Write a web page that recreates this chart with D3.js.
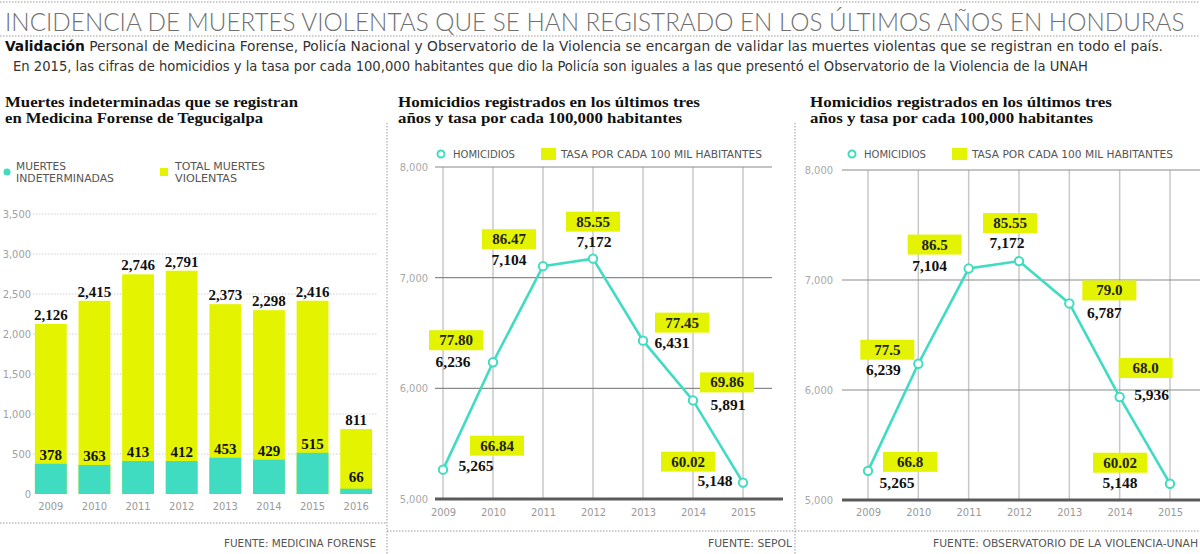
<!DOCTYPE html>
<html><head><meta charset="utf-8">
<script src="https://cdn.jsdelivr.net/npm/d3@7/dist/d3.min.js"></script>
<style>
html,body{margin:0;padding:0;background:#fff;}
svg{display:block;}
.sans{font-family:"Liberation Sans Narrow","DejaVu Sans Condensed","Roboto",sans-serif;}
.serif{font-family:"Liberation Serif","DejaVu Serif",serif;font-weight:bold;}
.ttl{font-family:"Lato","Open Sans","Roboto",sans-serif;font-weight:300;}
</style></head>
<body>
<svg id="chart" width="1200" height="554"></svg>
<script>
// ---------- DATA ----------
const barYears = ["2009","2010","2011","2012","2013","2014","2015","2016"];
const totalViolent = [2126,2415,2746,2791,2373,2298,2416,811];
const undetermined = [378,363,413,412,453,429,515,66];
const barTicks = [0,500,1000,1500,2000,2500,3000,3500];

const lineYears = ["2009","2010","2011","2012","2013","2014","2015"];
const sepolHomicides = [5265,6236,7104,7172,6431,5891,5148];
const sepolRates = ["66.84","77.80","86.47","85.55","77.45","69.86","60.02"];
const ovHomicides = [5265,6239,7104,7172,6787,5936,5148];
const ovRates = ["66.8","77.5","86.5","85.55","79.0","68.0","60.02"];
const lineTicks = [5000,6000,7000,8000];

// ---------- LAYOUT (label placement offsets relative to points) ----------
const sepolBoxOff = [[54,-24],[-37,-22],[-34,-27],[0,-37],[39,-18],[34,-18],[-55,-21]];
const sepolNumOff = [[33,-4],[-40,0],[-34,-6],[1,-17],[29,2],[35,5],[-28,-2]];
const ovBoxOff = [[42,-9],[-31,-14],[-34,-24],[-9,-38],[40,-13],[26,-29],[-50,-21]];
const ovNumOff = [[29,12],[-35,6],[-39,-3],[-12,-18],[35,10],[32,-2],[-50,-1]];

const TEAL = "#3fdcc1", YELLOW = "#e4f400";
const fmt = d3.format(",");
const svg = d3.select("#chart");

// ---------- HEADER ----------
const dot = (x1,y1,x2,y2) => svg.append("line").attr("x1",x1).attr("y1",y1).attr("x2",x2).attr("y2",y2)
  .attr("stroke","#9a9a9a").attr("stroke-width",1).attr("stroke-dasharray","1.5,1.5");
dot(0,2,1200,2); dot(0,36,1200,36);
// title: fit the natural width, then stretch vertically to the reference cap height
const title = svg.append("text").attr("class","ttl").attr("x",0).attr("y",0).attr("font-size",26)
  .attr("fill","#707070")
  .text("INCIDENCIA DE MUERTES VIOLENTAS QUE SE HAN REGISTRADO EN LOS ÚLTIMOS AÑOS EN HONDURAS");
const natW = title.node().getComputedTextLength();
const fs = 26 * 1180 / natW;
title.attr("font-size",fs).attr("transform",`translate(5,31) scale(1,${26/fs})`);

const sub1 = svg.append("text").attr("class","sans").attr("x",5).attr("y",51).attr("font-size",14.5)
  .attr("fill","#333").attr("textLength",1158).attr("lengthAdjust","spacingAndGlyphs");
sub1.append("tspan").attr("font-weight","bold").attr("fill","#111").text("Validación");
sub1.append("tspan").text(" Personal de Medicina Forense, Policía Nacional y Observatorio de la Violencia se encargan de validar las muertes violentas que se registran en todo el país.");
svg.append("text").attr("class","sans").attr("x",13).attr("y",71).attr("font-size",14.5)
  .attr("fill","#333").attr("textLength",1075).attr("lengthAdjust","spacingAndGlyphs")
  .text("En 2015, las cifras de homicidios y la tasa por cada 100,000 habitantes que dio la Policía son iguales a las que presentó el Observatorio de la Violencia de la UNAH");

// panel separators
dot(387,123,387,554); dot(795,123,795,554);

function panelTitle(x, l1, w1, l2, w2){
  svg.append("text").attr("class","serif").attr("x",x).attr("y",107).attr("font-size",15).attr("fill","#111")
    .attr("textLength",w1).attr("lengthAdjust","spacingAndGlyphs").text(l1);
  svg.append("text").attr("class","serif").attr("x",x).attr("y",123).attr("font-size",15).attr("fill","#111")
    .attr("textLength",w2).attr("lengthAdjust","spacingAndGlyphs").text(l2);
}
function smallText(x,y,t,w,anchor){
  const el = svg.append("text").attr("class","sans").attr("x",x).attr("y",y).attr("font-size",11)
    .attr("fill","#555").attr("text-anchor",anchor||"start").text(t);
  if (w) el.attr("textLength",w).attr("lengthAdjust","spacingAndGlyphs");
  return el;
}

// ---------- LEFT: stacked bars ----------
panelTitle(5,"Muertes indeterminadas que se registran",293,"en Medicina Forense de Tegucigalpa",258);
svg.append("circle").attr("cx",7).attr("cy",172).attr("r",3.5).attr("fill",TEAL);
smallText(16,170,"MUERTES",50); smallText(16,182,"INDETERMINADAS",98);
svg.append("rect").attr("x",160).attr("y",168).attr("width",8).attr("height",8).attr("fill",YELLOW);
smallText(175,170,"TOTAL MUERTES",90); smallText(175,182,"VIOLENTAS",62);

const xb = d3.scaleBand().domain(barYears).range([29,378]).paddingInner(0.27).paddingOuter(0.135);
const yb = d3.scaleLinear().domain([0,3500]).range([494,214]);

const gl = svg.append("g");
gl.selectAll("line.grid").data(barTicks.filter(d=>d>0)).enter().append("line")
  .attr("x1",33).attr("x2",378).attr("y1",d=>yb(d)).attr("y2",d=>yb(d))
  .attr("stroke","#d0d0d0").attr("stroke-dasharray","1.5,1.5");
const yAxisL = svg.append("g").attr("transform","translate(31,0)")
  .call(d3.axisLeft(yb).tickValues(barTicks).tickFormat(fmt).tickSize(0).tickPadding(0));
yAxisL.select(".domain").remove();
yAxisL.selectAll("text").attr("class","sans").attr("font-size",11).attr("fill","#a0a0a0").attr("font-family",null);

const bars = svg.append("g");
bars.selectAll("rect.tot").data(barYears).enter().append("rect")
  .attr("x",d=>xb(d)).attr("width",xb.bandwidth())
  .attr("y",(d,i)=>yb(totalViolent[i])).attr("height",(d,i)=>yb(0)-yb(totalViolent[i])).attr("fill",YELLOW);
bars.selectAll("rect.und").data(barYears).enter().append("rect")
  .attr("x",d=>xb(d)).attr("width",xb.bandwidth())
  .attr("y",(d,i)=>yb(undetermined[i])).attr("height",(d,i)=>yb(0)-yb(undetermined[i])).attr("fill",TEAL);
bars.selectAll("text.tot").data(barYears).enter().append("text").attr("class","serif")
  .attr("x",d=>xb(d)+xb.bandwidth()/2).attr("y",(d,i)=>yb(totalViolent[i])-4)
  .attr("text-anchor","middle").attr("font-size",15).attr("fill","#111")
  .text((d,i)=>fmt(totalViolent[i]));
bars.selectAll("text.und").data(barYears).enter().append("text").attr("class","serif")
  .attr("x",d=>xb(d)+xb.bandwidth()/2).attr("y",(d,i)=>Math.min(yb(undetermined[i])-4, yb(0)-12))
  .attr("text-anchor","middle").attr("font-size",15).attr("fill","#111")
  .text((d,i)=>fmt(undetermined[i]));
const xAxisL = svg.append("g").attr("transform","translate(0,502)")
  .call(d3.axisBottom(xb).tickSize(0).tickPadding(0));
xAxisL.select(".domain").remove();
xAxisL.selectAll("text").attr("class","sans").attr("font-size",11).attr("fill","#999").attr("font-family",null).attr("dy","0.71em");
dot(0,523,387,523);
smallText(376,547,"FUENTE: MEDICINA FORENSE",152,"end");

// ---------- LINE PANELS ----------
function linePanel(o){
  panelTitle(o.titleX,"Homicidios registrados en los últimos tres",o.tw1,"años y tasa por cada 100,000 habitantes",o.tw2);
  svg.append("circle").attr("cx",o.legX).attr("cy",154).attr("r",3.5).attr("fill","#fff").attr("stroke",TEAL).attr("stroke-width",2);
  smallText(o.legX+12,158,"HOMICIDIOS",62);
  svg.append("rect").attr("x",o.legX+100).attr("y",148).attr("width",15).attr("height",12).attr("fill",YELLOW);
  smallText(o.legX+120,158,"TASA POR CADA 100 MIL HABITANTES",201);

  const x = d3.scalePoint().domain(lineYears).range([o.x0,o.x1]);
  const y = d3.scaleLinear().domain([5000,8000]).range([o.yBottom,o.yTop]);
  const g = svg.append("g");
  g.selectAll("line.v").data(lineYears).enter().append("line")
    .attr("x1",d=>x(d)).attr("x2",d=>x(d)).attr("y1",y(8000)).attr("y2",y(5000))
    .attr("stroke","#c8c8c8").attr("stroke-width",1.5);
  g.selectAll("line.h").data(lineTicks.filter(d=>d>5000)).enter().append("line")
    .attr("x1",o.gx0).attr("x2",o.gx1).attr("y1",d=>y(d)).attr("y2",d=>y(d))
    .attr("stroke","#8a8a8a").attr("stroke-width",1.2);
  g.append("line").attr("x1",o.gx0).attr("x2",o.bx1).attr("y1",y(5000)).attr("y2",y(5000))
    .attr("stroke","#5a5a5a").attr("stroke-width",3);
  const ya = svg.append("g").attr("transform",`translate(${o.yLabX},0)`)
    .call(d3.axisLeft(y).tickValues(lineTicks).tickFormat(fmt).tickSize(0).tickPadding(0));
  ya.select(".domain").remove();
  ya.selectAll("text").attr("class","sans").attr("font-size",11).attr("fill","#a8a8a8").attr("font-family",null);
  const xa = svg.append("g").attr("transform","translate(0,508)")
    .call(d3.axisBottom(x).tickSize(0).tickPadding(0));
  xa.select(".domain").remove();
  xa.selectAll("text").attr("class","sans").attr("font-size",11).attr("fill","#999").attr("font-family",null).attr("dy","0.71em");

  const line = d3.line().x((d,i)=>x(lineYears[i])).y(d=>y(d));
  g.append("path").datum(o.values).attr("d",line).attr("fill","none").attr("stroke",TEAL).attr("stroke-width",2.6);
  g.selectAll("circle.pt").data(o.values).enter().append("circle")
    .attr("cx",(d,i)=>x(lineYears[i])).attr("cy",d=>y(d)).attr("r",4.2)
    .attr("fill","#fff").attr("stroke",TEAL).attr("stroke-width",2);

  o.values.forEach((v,i)=>{
    const px = x(lineYears[i]), py = y(v);
    const bx = px + o.boxOff[i][0], by = py + o.boxOff[i][1];
    g.append("rect").attr("x",bx-27).attr("y",by-10).attr("width",54).attr("height",20).attr("fill",YELLOW);
    g.append("text").attr("class","serif").attr("x",bx).attr("y",by+5).attr("text-anchor","middle")
      .attr("font-size",15).attr("fill","#222").text(o.rates[i]);
    const nx = px + o.numOff[i][0], ny = py + o.numOff[i][1];
    g.append("text").attr("class","serif").attr("x",nx).attr("y",ny+5).attr("text-anchor","middle")
      .attr("font-size",15.5).attr("fill","#111").text(fmt(v));
  });
  dot(o.sep0,531,o.sep1,531);
  smallText(o.footX,547,o.foot,o.footW,"end");
}

linePanel({titleX:398,tw1:302,tw2:284,legX:441,x0:443,x1:743,yTop:167,yBottom:499,gx0:435,gx1:772,bx1:783,
  yLabX:428,values:sepolHomicides,rates:sepolRates,boxOff:sepolBoxOff,numOff:sepolNumOff,
  sep0:387,sep1:795,footX:792,foot:"FUENTE: SEPOL",footW:84});
linePanel({titleX:810,tw1:302,tw2:283,legX:852,x0:868,x1:1170,yTop:170,yBottom:500,gx0:842,gx1:1200,bx1:1200,
  yLabX:833,values:ovHomicides,rates:ovRates,boxOff:ovBoxOff,numOff:ovNumOff,
  sep0:795,sep1:1200,footX:1198,foot:"FUENTE: OBSERVATORIO DE LA VIOLENCIA-UNAH",footW:265});
</script>
</body></html>
